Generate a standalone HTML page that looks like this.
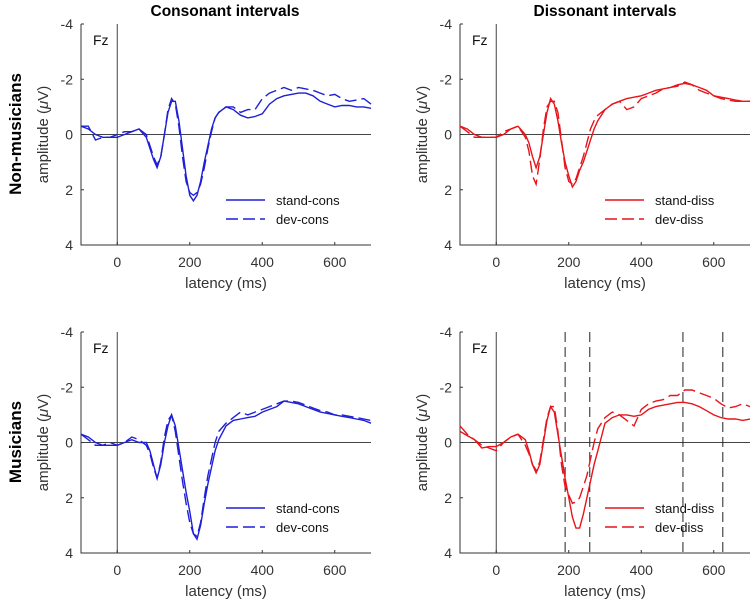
<!DOCTYPE html>
<html><head><meta charset="utf-8"><style>
body{margin:0;background:#fff;}
svg{display:block;font-family:"Liberation Sans",sans-serif;}
</style></head><body>
<svg id="c" width="750" height="602" viewBox="0 0 750 602">
<text x="225" y="16" text-anchor="middle" font-size="15.5" font-weight="bold">Consonant intervals</text>
<text x="605" y="16" text-anchor="middle" font-size="15.5" font-weight="bold">Dissonant intervals</text>
<text transform="translate(21,134) rotate(-90)" text-anchor="middle" font-size="17" font-weight="bold">Non-musicians</text>
<text transform="translate(21,442) rotate(-90)" text-anchor="middle" font-size="17" font-weight="bold">Musicians</text>
</svg>
<script>
// Time samples (ms)
const tNMc = [-100,-80,-60,-40,-20,0,20,40,60,80,90,100,110,120,130,140,150,160,170,180,190,200,210,220,230,240,250,260,270,280,300,320,340,360,380,400,420,440,460,480,500,520,540,560,580,600,620,640,660,680,700];
const nmStandCons = [-0.3,-0.2,0,0.1,0.1,0.1,0,-0.1,-0.2,0.1,0.5,0.9,1.2,0.8,0,-0.8,-1.2,-1.2,-0.5,0.5,1.5,2.2,2.4,2.2,1.7,1.0,0.4,-0.2,-0.6,-0.8,-1.0,-0.9,-0.7,-0.6,-0.65,-0.75,-1.1,-1.3,-1.4,-1.45,-1.5,-1.5,-1.4,-1.2,-1.1,-1.0,-1.05,-1.05,-1.0,-1.0,-0.95];
const nmDevCons = [-0.3,-0.3,0.2,0.1,0.1,0,-0.1,-0.1,-0.2,0,0.4,0.8,1.1,0.8,0,-0.9,-1.3,-1.1,-0.3,0.8,1.7,2.1,2.2,2.1,1.8,1.2,0.5,-0.1,-0.6,-0.8,-1.0,-1.0,-0.8,-0.9,-0.9,-1.3,-1.5,-1.6,-1.7,-1.6,-1.7,-1.65,-1.6,-1.5,-1.4,-1.45,-1.3,-1.2,-1.25,-1.3,-1.1];
const nmStandDiss = [-0.3,-0.2,0,0.1,0.1,0.1,0,-0.2,-0.3,0,0.3,0.8,1.2,0.8,0,-0.8,-1.3,-1.1,-0.5,0.3,1.0,1.5,1.9,1.7,1.3,1.0,0.6,0.2,-0.2,-0.5,-0.9,-1.1,-1.2,-1.3,-1.35,-1.4,-1.5,-1.6,-1.65,-1.7,-1.8,-1.85,-1.8,-1.7,-1.6,-1.4,-1.35,-1.3,-1.25,-1.2,-1.2];
const nmDevDiss = [-0.3,-0.1,0.1,0.1,0.1,0.1,-0.1,-0.2,-0.3,0.1,0.6,1.5,1.8,0.9,-0.2,-1.0,-1.2,-1.2,-0.8,0.2,1.2,1.7,1.8,1.6,1.2,0.8,0.3,-0.2,-0.5,-0.7,-0.9,-1.1,-1.2,-0.9,-1.0,-1.3,-1.4,-1.5,-1.65,-1.7,-1.75,-1.9,-1.8,-1.6,-1.5,-1.4,-1.3,-1.25,-1.2,-1.2,-1.2];
const muStandCons = [-0.3,-0.2,0,0.1,0.1,0.1,0,-0.1,0,0,0.3,0.8,1.3,0.8,0,-0.6,-1.0,-0.6,0.2,1.0,1.8,2.5,3.3,3.5,3.0,2.2,1.5,0.9,0.3,-0.1,-0.6,-0.8,-0.85,-0.9,-0.95,-1.1,-1.2,-1.3,-1.5,-1.45,-1.4,-1.3,-1.2,-1.1,-1.05,-1.0,-0.95,-0.9,-0.85,-0.8,-0.7];
const muDevCons = [-0.3,-0.1,0.1,0.1,0,0.1,0,-0.2,-0.1,0.1,0.4,0.9,1.3,0.7,-0.2,-0.8,-1.0,-0.4,0.5,1.4,2.2,2.9,3.3,3.4,2.9,2.0,1.2,0.6,0,-0.4,-0.7,-0.9,-1.1,-1.0,-1.1,-1.2,-1.3,-1.4,-1.5,-1.5,-1.45,-1.35,-1.25,-1.15,-1.1,-1.0,-1.0,-0.95,-0.9,-0.85,-0.8];
const muStandDiss = [-0.4,-0.25,-0.1,0.2,0.15,0.15,0,-0.2,-0.3,-0.1,0.3,0.8,1.1,0.8,0,-0.8,-1.3,-1.1,-0.3,0.5,1.3,2.0,2.7,3.1,3.1,2.6,2.0,1.4,0.8,0.3,-0.7,-0.9,-1.0,-1.0,-0.95,-1.0,-1.2,-1.3,-1.35,-1.4,-1.45,-1.45,-1.4,-1.3,-1.15,-1.0,-0.9,-0.85,-0.85,-0.8,-0.85];
const muDevDiss = [-0.6,-0.3,-0.1,0.1,0.2,0.3,0,-0.2,-0.3,0.1,0.4,0.8,1.0,0.7,-0.1,-0.9,-1.3,-1.3,-0.4,0.8,1.6,1.9,2.2,2.15,2.0,1.6,1.2,0.6,0,-0.5,-0.9,-1.1,-1.0,-0.8,-0.6,-1.2,-1.4,-1.5,-1.55,-1.7,-1.7,-1.9,-1.9,-1.8,-1.7,-1.6,-1.4,-1.25,-1.3,-1.4,-1.3];
const markerLines = [190,258,515,625];
const xTicks = [0,200,400,600];
const yTicks = [-4,-2,0,2,4];

const svg = document.getElementById('c');
const NS = 'http://www.w3.org/2000/svg';
function mk(tag, attrs, parent){const e=document.createElementNS(NS,tag);for(const k in attrs)e.setAttribute(k,attrs[k]);(parent||svg).appendChild(e);return e;}

function panel(px, py, standV, devV, color, names, markers, key){
  const L=px, R=px+290, T=py, B=py+221;
  const xs = t => L + (t+100)/800*(R-L);
  const ys = v => T + (v+4)/8*(B-T);
  const g = mk('g',{});
  
  
  const zx = mk('line',{x1:xs(0),x2:xs(0),y1:T,y2:B,stroke:'#444','stroke-width':1},g);
  
  
  const zy = mk('line',{x1:L,x2:R,y1:ys(0),y2:ys(0),stroke:'#444','stroke-width':1},g);
  
  
  const ax = mk('path',{d:`M${L},${T}V${B}H${R}`,fill:'none',stroke:'#333','stroke-width':1},g);
  
  
  for(const t of xTicks){
    mk('line',{x1:xs(t),x2:xs(t),y1:B,y2:B-3,stroke:'#333'},g);
    const tx = mk('text',{x:xs(t),y:B+22,'text-anchor':'middle','font-size':14,fill:'#333'},g);
    tx.textContent=t;
    
    
  }
  for(const v of yTicks){
    mk('line',{x1:L,x2:L+3,y1:ys(v),y2:ys(v),stroke:'#333'},g);
    const ty = mk('text',{x:L-8,y:ys(v)+5,'text-anchor':'end','font-size':14,fill:'#333'},g);
    ty.textContent=v;
    
    
  }
  const xl = mk('text',{x:(L+R)/2,y:B+43,'text-anchor':'middle','font-size':15,fill:'#333'},g);
  xl.textContent='latency (ms)';
  
  
  const yl = mk('text',{transform:`translate(${L-33},${(T+B)/2}) rotate(-90)`,'text-anchor':'middle','font-size':15,fill:'#333'},g);
  yl.innerHTML='amplitude (<tspan font-style="italic">μ</tspan>V)';
  
  
  const fz = mk('text',{x:L+12,y:T+21,'font-size':14,fill:'#111'},g);
  fz.textContent='Fz';
  
  
  for(const m of markers){
    const ml = mk('line',{x1:xs(m),x2:xs(m),y1:T,y2:B,stroke:'#222','stroke-dasharray':'10,5','stroke-width':1},g);
    
    
  }
  const line = (vals, dash, nm) => {
    const d = tNMc.map((t,i)=>(i?'L':'M')+xs(t).toFixed(1)+','+ys(vals[i]).toFixed(1)).join('');
    const p = mk('path',{d, fill:'none', stroke:color,'stroke-width':1.4,'stroke-dasharray':dash},g);
    
    
  };
  line(standV,'none',key+'-'+names[0]+'-line');
  line(devV,'12,5',key+'-'+names[1]+'-line');
  const ly1 = T+176, ly2 = T+195;
  const l1 = mk('line',{x1:L+145,x2:L+184,y1:ly1,y2:ly1,stroke:color,'stroke-width':1.4},g);
  
  
  const l2 = mk('line',{x1:L+145,x2:L+184,y1:ly2,y2:ly2,stroke:color,'stroke-width':1.4,'stroke-dasharray':'12,5'},g);
  
  
  const t1 = mk('text',{x:L+195,y:ly1+5,'font-size':13,fill:'#111'},g);
  t1.textContent=names[0];
  
  
  const t2 = mk('text',{x:L+195,y:ly2+5,'font-size':13,fill:'#111'},g);
  t2.textContent=names[1];
  
  
}
panel(81,24,nmStandCons,nmDevCons,'#1f1fd6',['stand-cons','dev-cons'],[],'nonmus-cons');
panel(460,24,nmStandDiss,nmDevDiss,'#e8141a',['stand-diss','dev-diss'],[],'nonmus-diss');
panel(81,332,muStandCons,muDevCons,'#1f1fd6',['stand-cons','dev-cons'],[],'mus-cons');
panel(460,332,muStandDiss,muDevDiss,'#e8141a',['stand-diss','dev-diss'],markerLines,'mus-diss');
</script>
</body></html>
